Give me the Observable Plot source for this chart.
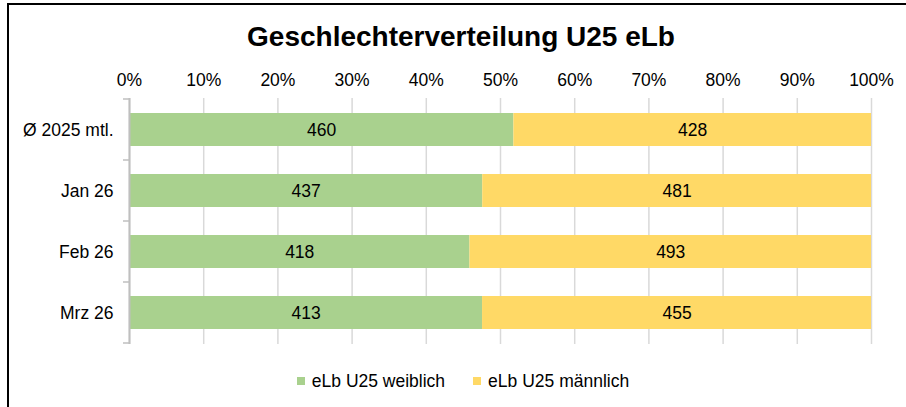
<!DOCTYPE html>
<html>
<head>
<meta charset="utf-8">
<script src="https://cdn.jsdelivr.net/npm/d3@7"></script>
<script src="https://cdn.jsdelivr.net/npm/@observablehq/plot@0.6"></script>
<style>
  body { margin: 0; background: #fff; font-family: "Liberation Sans", Arial, sans-serif; }
  #wrap { position: relative; width: 906px; height: 407px; overflow: hidden; background: #fff; }
  #frame { position: absolute; left: 7px; top: 3px; width: 1000px; height: 500px; border: 2px solid #000; box-sizing: border-box; }
  #title { position: absolute; left: 0; width: 922px; top: 23px; line-height: 28px; text-align: center; font-weight: bold; font-size: 28px; color: #000; }
  #chart { position: absolute; left: 0; top: 0; }
  #legend { position: absolute; left: 10px; width: 906px; top: 373px; line-height: 17.5px; text-align: center; font-size: 17.5px; color: #000; white-space: nowrap; }
  .item { display: inline-block; margin: 0 14px; }
  .sw { display: inline-block; width: 8px; height: 8px; margin-right: 7px; vertical-align: 2px; }
</style>
</head>
<body>
<div id="wrap">
  <div id="frame"></div>
  <div id="title">Geschlechterverteilung U25 eLb</div>
  <div id="chart"></div>
  <div id="legend"></div>
</div>
<script>
const categories = ["Ø 2025 mtl.", "Jan 26", "Feb 26", "Mrz 26"];
const seriesNames = ["eLb U25 weiblich", "eLb U25 männlich"];
const weiblich = [460, 437, 418, 413];
const maennlich = [428, 481, 493, 455];
const colors = ["#A9D18E", "#FFD966"];
const xTicks = [0, 0.1, 0.2, 0.3, 0.4, 0.5, 0.6, 0.7, 0.8, 0.9, 1];

const data = [];
categories.forEach((c, i) => {
  data.push({cat: c, series: seriesNames[0], value: weiblich[i]});
  data.push({cat: c, series: seriesNames[1], value: maennlich[i]});
});

const fmt = d => Math.round(d * 100) + "%";

const plot = Plot.plot({
  width: 906,
  height: 407,
  marginLeft: 129,
  marginRight: 35,
  marginTop: 98,
  marginBottom: 63,
  style: {fontFamily: "'Liberation Sans', Arial, sans-serif", fontSize: "17.5px", color: "#000", background: "transparent"},
  x: {domain: [0, 1], axis: null, label: null},
  y: {domain: categories, paddingInner: 0.455, paddingOuter: 0.2275, axis: null, label: null},
  color: {domain: seriesNames, range: colors},
  marks: [
    Plot.gridX(xTicks, {stroke: "#d9d9d9", strokeOpacity: 1, strokeWidth: 1.5}),
    Plot.axisX(xTicks, {anchor: "top", tickSize: 0, tickPadding: 13, tickFormat: fmt, fontSize: 17.5, fill: "#000", label: null}),
    Plot.axisY({anchor: "left", tickSize: 0, tickPadding: 16, fontSize: 17.5, fill: "#000", label: null}),
    Plot.barX(data, Plot.stackX({offset: "normalize", x: "value", y: "cat", fill: "series", order: seriesNames})),
    Plot.textX(data, Plot.stackX({offset: "normalize", x: "value", y: "cat", z: "series", order: seriesNames, text: d => String(d.value), fill: "#000", fontSize: 17.5})),
    Plot.ruleX([0], {stroke: "#bfbfbf", strokeWidth: 2})
  ]
});
document.getElementById("chart").appendChild(plot);

// category boundary ticks on the left axis, derived from the y scale
const ys = plot.scale("y");
const xs = plot.scale("x");
const x0 = xs.apply(0);
const step = ys.step;
const bounds = [];
categories.forEach((c, i) => {
  const center = ys.apply(c) + ys.bandwidth / 2;
  if (i === 0) bounds.push(center - step / 2);
  bounds.push(center + step / 2);
});
const svg = d3.select(plot);
svg.append("g").selectAll("line").data(bounds).join("line")
  .attr("x1", x0 - 6).attr("x2", x0)
  .attr("y1", d => d).attr("y2", d => d)
  .attr("stroke", "#bfbfbf").attr("stroke-width", 1.5);

const legend = document.getElementById("legend");
seriesNames.forEach((s, i) => {
  const item = document.createElement("span");
  item.className = "item";
  item.innerHTML = `<span class="sw" style="background:${colors[i]}"></span>${s}`;
  legend.appendChild(item);
});
</script>
</body>
</html>
